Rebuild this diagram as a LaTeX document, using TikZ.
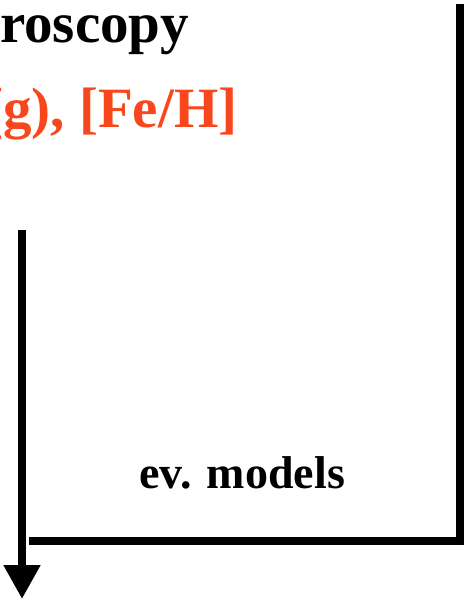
\documentclass[tikz,border=0pt]{standalone}
\usepackage{fontspec}
\setmainfont{Liberation Serif}
\usetikzlibrary{arrows.meta}
\definecolor{fered}{HTML}{F8471C}
\definecolor{inkblack}{HTML}{000000}

\begin{document}
\begin{tikzpicture}[x=1pt, y=-1pt,
  >={Triangle[length=34pt, width=35pt]},
  bigtext/.style={font=\fontsize{57}{60}\selectfont\bfseries, inner sep=0pt, anchor=base west},
  midtext/.style={font=\fontsize{46}{50}\selectfont\bfseries, inner sep=0pt, anchor=base west},
  heavy/.style={inkblack, line width=8pt}]

\useasboundingbox (0,0) rectangle (466,601);
\clip (0,0) rectangle (466,601);

% =====================================================
% Labels (cut off at the left edge)
% =====================================================
\node[bigtext, text=inkblack] (spec) at (0,43) {roscopy};
\node[bigtext, text=fered] (params) at (-16,128) {(g), [Fe/H]};
\node[midtext, text=inkblack] (evmod) at (139,488) {ev. models};

% =====================================================
% Frame lines and the downward arrow
% =====================================================
\coordinate (rtop) at (460,4);
\coordinate (rbot) at (460,545);
\coordinate (hright) at (459,541);
\coordinate (hleft) at (29,541);
\coordinate (atop) at (22,230);
\coordinate (abot) at (22,599);

\draw[heavy] (rtop) -- (rbot);
\draw[heavy] (hright) -- (hleft);
\draw[heavy, ->] (atop) -- (abot);

\end{tikzpicture}
\end{document}
